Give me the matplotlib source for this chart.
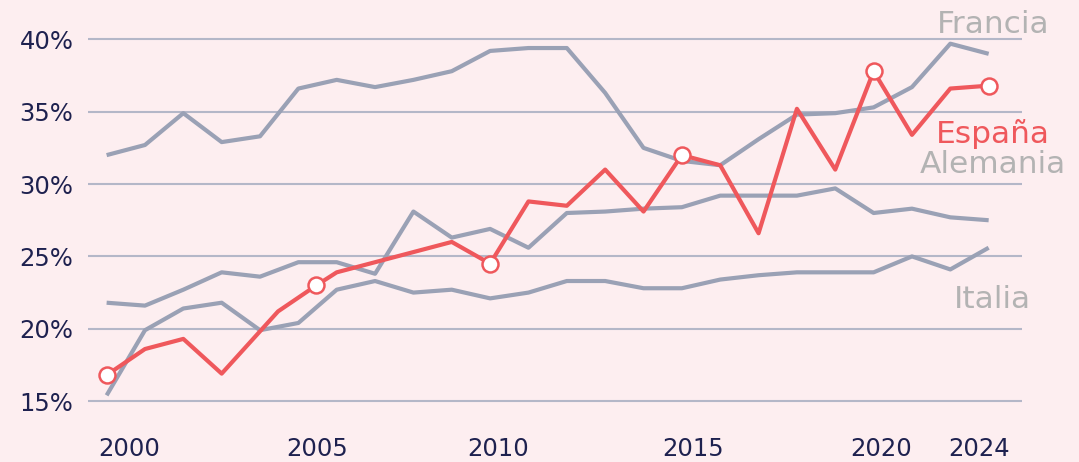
import matplotlib
matplotlib.use("Agg")
import matplotlib.pyplot as plt
import numpy as np

# posiciones de los puntos (un paso por observación)
pasos = np.arange(24)

francia = [32.0, 32.7, 34.9, 32.9, 33.3, 36.6, 37.2, 36.7, 37.2, 37.8, 39.2, 39.4,
           39.4, 36.3, 32.5, 31.6, 31.3, 33.1, 34.8, 34.9, 35.3, 36.7, 39.7, 39.0]
alemania = [21.8, 21.6, 22.7, 23.9, 23.6, 24.6, 24.6, 23.8, 28.1, 26.3, 26.9, 25.6,
            28.0, 28.1, 28.3, 28.4, 29.2, 29.2, 29.2, 29.7, 28.0, 28.3, 27.7, 27.5]
italia = [15.4, 19.9, 21.4, 21.8, 19.9, 20.4, 22.7, 23.3, 22.5, 22.7, 22.1, 22.5,
          23.3, 23.3, 22.8, 22.8, 23.4, 23.7, 23.9, 23.9, 23.9, 25.0, 24.1, 25.6]

espana_x = [0, 1, 2, 3, 4.47, 5.47, 6, 9, 10, 11, 12, 13, 14, 15, 16, 17, 18, 19,
            20, 21, 22, 23]
espana = [16.8, 18.6, 19.3, 16.9, 21.2, 23.0, 23.9, 26.0, 24.5, 28.8, 28.5, 31.0,
          28.1, 32.0, 31.3, 26.6, 35.2, 31.0, 37.8, 33.4, 36.6, 36.8]
espana_marcas = [0, 5, 8, 13, 18, 21]

anios = ["2000", "2005", "2010", "2015", "2020", "2024"]
anios_pos = [0.6, 5.5, 10.2, 15.3, 20.2, 22.75]
y_ticks = [15, 20, 25, 30, 35, 40]

FONDO = "#fdeef0"
GRIS_LINEA = "#9aa1b5"
GRIS_REJILLA = "#b4b7c8"
GRIS_TEXTO = "#b3b3b3"
ROJO = "#ef585c"
AZUL_TEXTO = "#1e214f"

plt.rcParams["font.family"] = ["DejaVu Sans"]

fig = plt.figure(figsize=(10.79, 4.62), dpi=100)
fig.patch.set_facecolor(FONDO)
ax = fig.add_axes([0.0814, 0.0848, 0.8658, 0.877])
ax.set_facecolor(FONDO)

for serie in (francia, alemania, italia):
    ax.plot(pasos, serie, color=GRIS_LINEA, linewidth=3.0, solid_capstyle="butt", zorder=2)
ax.plot(espana_x, espana, color=ROJO, linewidth=3.0, solid_capstyle="butt", zorder=3,
        marker="o", markevery=espana_marcas, markersize=11.5, markerfacecolor="white",
        markeredgecolor=ROJO, markeredgewidth=1.8)

ax.set_xlim(-0.49, 23.87)
ax.set_ylim(13.5, 41.5)
ax.set_yticks(y_ticks)
ax.set_yticklabels([f"{v}%" for v in y_ticks])
ax.set_xticks(anios_pos)
ax.set_xticklabels(anios)
ax.grid(True, axis="y", color=GRIS_REJILLA, linewidth=1.5)
ax.set_axisbelow(True)
for s in ax.spines.values():
    s.set_visible(False)
ax.tick_params(axis="y", length=0, pad=10.4, labelsize=17.5, labelcolor=AZUL_TEXTO)
ax.tick_params(axis="x", length=0, pad=10.5, labelsize=17.5, labelcolor=AZUL_TEXTO)

etiquetas = [("Francia", 40.44, GRIS_TEXTO), ("España", 32.83, ROJO),
             ("Alemania", 30.76, GRIS_TEXTO), ("Italia", 21.44, GRIS_TEXTO)]
for texto, y, color in etiquetas:
    ax.text(23.11, y, texto, color=color, fontsize=22.5, ha="center", va="baseline",
            clip_on=False, zorder=5)

fig.savefig("out.png", dpi=100, facecolor=FONDO)
